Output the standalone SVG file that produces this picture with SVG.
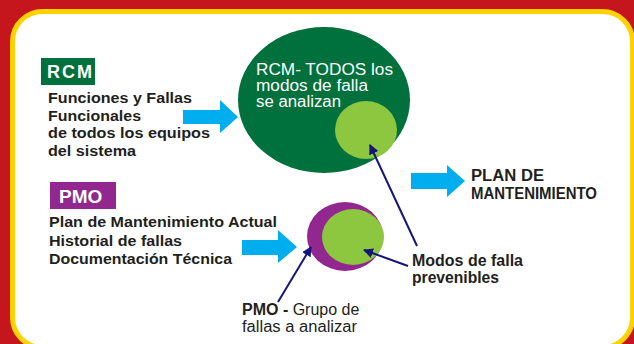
<svg xmlns="http://www.w3.org/2000/svg" width="634" height="344" viewBox="0 0 634 344">
<defs>
<style>
.lbl{font-family:"Liberation Sans",Arial,sans-serif;font-weight:bold;fill:#231f20}
.wt{font-family:"Liberation Sans",Arial,sans-serif;fill:#ffffff}
.reg{font-family:"Liberation Sans",Arial,sans-serif;fill:#231f20}
.conn{stroke:#16167a;stroke-width:2;fill:none}
.blue{fill:#00aeef}
</style>
<marker id="ah" viewBox="0 0 10 10" refX="9" refY="5" markerWidth="5" markerHeight="5" orient="auto" markerUnits="strokeWidth">
<path d="M0,0 L10,5 L0,10 z" fill="#16167a"/>
</marker>
</defs>
<rect x="0" y="0" width="634" height="344" fill="#c4161c"/>
<rect x="12.5" y="11.5" width="620" height="336" rx="30" ry="30" fill="#ffffff" stroke="#ffd200" stroke-width="5"/>

<g id="rcm-label">
<rect x="41" y="58" width="54" height="27" fill="#00703c"/>
<text x="47" y="78" class="wt" font-size="18" font-weight="bold" letter-spacing="2">RCM</text>
</g>
<g id="rcm-text" class="lbl" font-size="14.5">
<text x="48" y="103" textLength="144" lengthAdjust="spacingAndGlyphs">Funciones y Fallas</text>
<text x="48" y="121" textLength="93" lengthAdjust="spacingAndGlyphs">Funcionales</text>
<text x="48" y="138" textLength="162" lengthAdjust="spacingAndGlyphs">de todos los equipos</text>
<text x="48" y="156" textLength="88" lengthAdjust="spacingAndGlyphs">del sistema</text>
</g>

<g id="pmo-label">
<rect x="50" y="182" width="66" height="27" fill="#92278f"/>
<text x="59" y="203" class="wt" font-size="19" font-weight="bold">PMO</text>
</g>
<g id="pmo-text" class="lbl" font-size="14.5">
<text x="49" y="227" textLength="228" lengthAdjust="spacingAndGlyphs">Plan de Mantenimiento Actual</text>
<text x="49" y="246" textLength="133" lengthAdjust="spacingAndGlyphs">Historial de fallas</text>
<text x="49" y="264" textLength="183" lengthAdjust="spacingAndGlyphs">Documentación Técnica</text>
</g>

<g id="rcm-ellipse">
<ellipse cx="324" cy="100" rx="86" ry="73" fill="#00703c"/>
<ellipse cx="366" cy="130" rx="31" ry="29" fill="#8dc63f"/>
<text class="wt" font-size="16" x="256" y="75" textLength="137" lengthAdjust="spacingAndGlyphs">RCM- TODOS los</text>
<text class="wt" font-size="16" x="256" y="91" textLength="112" lengthAdjust="spacingAndGlyphs">modos de falla</text>
<text class="wt" font-size="16" x="256" y="107" textLength="85" lengthAdjust="spacingAndGlyphs">se analizan</text>
</g>

<g id="pmo-ellipse">
<ellipse cx="345" cy="236.5" rx="38" ry="34.5" fill="#92278f"/>
<ellipse cx="353" cy="237" rx="31" ry="28" fill="#8dc63f"/>
</g>

<g id="plan">
<text class="lbl" font-size="16" x="471" y="181" textLength="73" lengthAdjust="spacingAndGlyphs">PLAN DE</text>
<text class="lbl" font-size="16" x="471" y="199" textLength="126" lengthAdjust="spacingAndGlyphs">MANTENIMIENTO</text>
</g>

<g id="modos">
<text class="lbl" font-size="16" x="412" y="266" textLength="111" lengthAdjust="spacingAndGlyphs">Modos de falla</text>
<text class="lbl" font-size="16" x="412" y="283" textLength="87" lengthAdjust="spacingAndGlyphs">prevenibles</text>
</g>

<g id="pmo-grupo">
<text class="reg" font-size="16" x="242" y="315"><tspan font-weight="bold">PMO - </tspan>Grupo de</text>
<text class="reg" font-size="16" x="242" y="332" textLength="115" lengthAdjust="spacingAndGlyphs">fallas a analizar</text>
</g>

<g id="connectors">
<path class="blue" d="M183,110 L220,110 L220,100 L238,117 L220,133 L220,124 L183,124 Z"/>
<path class="blue" d="M242,240 L278,240 L278,230 L297,247 L278,263 L278,255 L242,255 Z"/>
<path class="blue" d="M411,173 L447,173 L447,165 L465,181 L447,197 L447,189 L411,189 Z"/>
<line class="conn" x1="417" y1="246" x2="370" y2="145" marker-end="url(#ah)"/>
<line class="conn" x1="408" y1="266" x2="364" y2="250" marker-end="url(#ah)"/>
<line class="conn" x1="278" y1="302" x2="311" y2="247" marker-end="url(#ah)"/>
</g>
</svg>
